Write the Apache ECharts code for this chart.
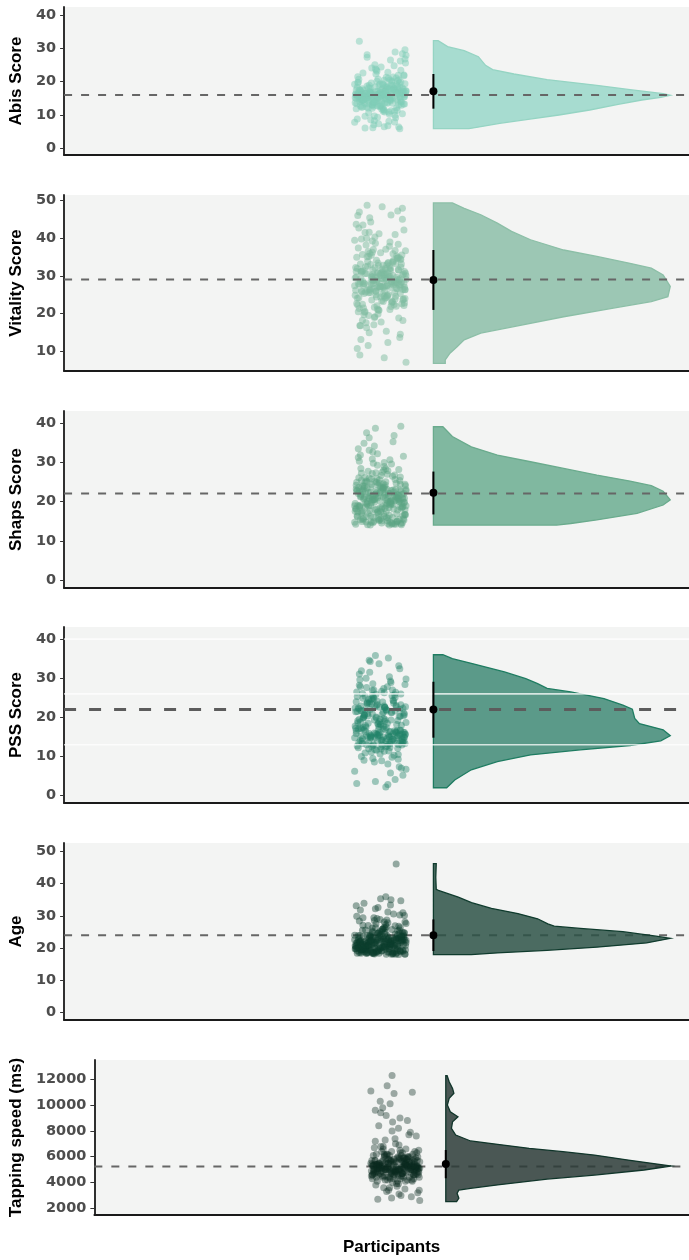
<!DOCTYPE html>
<html>
<head>
<meta charset="utf-8">
<script src="https://cdn.jsdelivr.net/npm/echarts@6/dist/echarts.min.js"></script>
<style>
  html, body { margin: 0; padding: 0; background: #fff; }
  #main { width: 689px; height: 1260px; }
</style>
</head>
<body>
<div id="main"></div>
<script>
// ---- data ----
var measures = ['Abis Score', 'Vitality Score', 'Shaps Score', 'PSS Score', 'Age', 'Tapping speed (ms)'];

var ticksAbis = [0, 10, 20, 30, 40];
var ticksVitality = [10, 20, 30, 40, 50];
var ticksShaps = [0, 10, 20, 30, 40];
var ticksPss = [0, 10, 20, 30, 40];
var ticksAge = [0, 10, 20, 30, 40, 50];
var ticksTapping = [2000, 4000, 6000, 8000, 10000, 12000];

// reference (dashed) line per panel
var refLines = [16, 29, 22, 22, 24, 5250];
// mean, lower, upper of the error bar
var meanAbis = [17.1, 11.9, 22.3];
var meanVitality = [28.9, 21.0, 36.8];
var meanShaps = [22.2, 16.7, 27.6];
var meanPss = [22.0, 14.8, 29.1];
var meanAge = [24.0, 19.1, 28.9];
var meanTapping = [5430, 4330, 6520];

// PSS band lines (white)
var pssBands = [13, 26, 40];

// horizontal jitter (0..1 within the cloud)
var jitter = [0.12,0.87,0.45,0.63,0.05,0.91,0.34,0.72,0.18,0.56,0.97,0.28,0.41,0.83,0.09,0.66,0.22,0.75,0.51,0.02,
  0.38,0.94,0.15,0.60,0.80,0.31,0.47,0.69,0.07,0.88,0.25,0.54,0.99,0.13,0.43,0.77,0.36,0.61,0.03,0.85,
  0.20,0.49,0.92,0.58,0.11,0.70,0.33,0.81,0.27,0.64,0.46,0.95,0.08,0.52,0.74,0.17,0.39,0.89,0.30,0.67,
  0.01,0.57,0.84,0.23,0.42,0.78,0.14,0.62,0.96,0.35,0.50,0.06,0.73,0.29,0.86,0.19,0.55,0.93,0.40,0.68,
  0.10,0.79,0.32,0.59,0.98,0.24,0.44,0.71,0.04,0.82,0.37,0.53,0.90,0.16,0.65,0.26,0.76,0.48,0.00,0.87,
  0.21,0.58,0.93,0.34,0.69,0.12,0.45,0.80,0.27,0.63,0.09,0.52,0.96,0.38,0.74,0.18,0.61,0.85,0.30,0.47,
  0.03,0.71,0.42,0.89,0.15,0.56,0.78,0.24,0.67,0.99,0.36,0.50,0.07,0.83,0.20,0.64,0.41,0.92,0.13,0.55,
  0.76,0.32,0.88,0.05,0.49,0.70,0.23,0.95,0.39,0.60,0.11,0.82,0.28,0.53,0.97,0.44,0.68,0.16,0.57,0.31,
  0.62,0.14,0.79,0.35,0.91,0.06,0.48,0.73,0.27,0.58,0.02,0.84,0.41,0.67,0.19,0.95,0.33,0.52,0.88,0.10,
  0.71,0.25,0.46,0.99,0.37,0.60,0.08,0.81,0.29,0.54,0.16,0.93,0.44,0.75,0.21,0.64,0.04,0.86,0.39,0.57,
  0.12,0.69,0.97,0.31,0.50,0.78,0.23,0.43,0.90,0.07,0.66,0.18,0.83,0.36,0.59,0.01,0.74,0.47,0.26,0.92,
  0.13,0.55,0.80,0.34,0.68,0.09,0.42,0.96,0.22,0.61,0.85,0.30,0.51,0.03,0.77,0.40,0.17,0.89,0.63,0.28,
  0.45,0.98,0.11,0.72,0.35,0.56,0.20,0.87,0.05,0.65,0.38,0.82,0.24,0.49,0.94,0.15,0.70,0.32,0.58,0.00];

var abisPoints = [16.2,15.4,17.1,13.8,18.3,16.7,12.9,20.2,15.1,11.6,19.4,16.0,22.3,14.2,17.6,10.8,15.7,18.1,24.4,16.4,
  9.7,13.3,17.9,14.8,21.1,8.6,16.1,14.5,19.8,26.2,15.3,12.2,17.3,16.8,23.1,7.9,13.7,18.6,15.0,20.6,
  16.5,12.7,28.4,14.9,17.2,11.3,15.9,19.1,14.1,6.8,16.3,22.0,15.6,13.1,18.8,17.4,25.1,13.9,16.6,10.2,
  15.2,20.4,17.7,12.4,16.0,28.9,14.4,18.2,15.5,6.2,16.9,21.5,13.5,17.0,19.6,15.8,11.1,16.2,23.8,14.6,
  17.5,9.2,15.1,18.4,16.7,27.3,12.8,20.0,16.1,14.7,7.1,17.8,14.0,22.6,15.9,12.1,18.0,15.3,19.2,5.9,
  16.4,13.6,17.2,13.2,26.5,15.0,20.8,16.8,10.6,18.5,32.1,14.3,16.0,8.3,17.6,15.6,21.3,13.0,16.5,19.0,
  11.9,15.2,17.1,23.4,14.5,16.2,9.9,18.7,15.4,27.9,12.6,17.4,16.6,20.3,6.1,15.8,14.2,18.1,12.3,16.9,
  24.8,17.0,15.1,8.8,19.3,16.3,13.4,21.8,13.8,17.3,15.7,11.4,18.9,16.1,29.6,14.8,20.5,15.5,6.5,16.7,
  15.8,14.3,17.4,13.1,16.6,19.7,12.5,15.0,18.2,10.9,16.1,21.9,14.7,17.8,13.6,15.5,24.1,11.8,16.9,14.0,
  18.9,15.3,7.4,17.1,13.9,16.4,20.7,12.2,15.7,19.4,14.5,16.8,9.3,17.6,15.2,22.8,13.4,16.2,18.4,11.5,
  15.9,14.2,26.8,16.6,13.0,17.3,15.1,20.1,12.9,16.0,8.1,14.9,18.6,15.6,17.0,13.7,21.4,16.3,14.4,10.4,
  15.4,19.1,16.7,12.0,17.9,15.0,23.5,13.3,16.5,14.8,6.4,18.0,15.8,17.5,11.2,16.1,14.6,19.9,13.5,16.9,
  15.3,25.6,12.7,17.2,14.1,16.4,9.6,18.3,15.6,21.0,13.8,16.2,28.1,14.9,17.7,12.4,15.5,19.6,16.0,7.8];

var vitalityPoints = [29.3,27.1,33.4,24.8,31.9,22.6,36.2,28.4,19.7,30.8,26.3,41.5,25.9,34.7,21.4,29.9,38.1,27.6,17.8,32.2,
  28.8,23.9,35.6,30.3,26.7,44.2,20.9,31.4,27.9,14.6,33.8,25.2,29.1,39.7,22.1,28.2,36.9,24.3,31.1,18.9,
  30.6,26.8,47.8,27.3,33.1,21.9,29.6,35.2,25.5,12.4,32.7,28.1,42.6,23.4,30.1,27.5,19.2,34.3,26.1,37.8,
  29.4,24.7,31.6,16.3,28.6,40.9,25.8,32.9,22.8,30.4,27.2,45.9,23.1,35.9,28.9,20.4,31.3,26.4,38.6,29.8,
  9.1,33.2,27.8,24.1,30.7,48.6,21.2,29.2,34.9,26.6,17.1,31.8,28.3,43.4,25.1,36.4,22.4,30.0,27.4,13.7,
  32.4,29.5,23.7,39.2,26.9,31.2,19.9,28.5,35.1,24.6,46.8,30.9,27.0,21.7,33.6,28.0,15.4,31.5,25.6,41.1,
  29.7,22.9,34.1,27.7,18.3,30.2,36.7,26.2,32.6,7.2,28.7,24.4,37.3,29.0,20.6,33.3,26.0,44.9,31.0,23.2,
  28.1,35.4,25.3,10.8,30.5,27.9,39.9,22.2,32.1,29.3,16.8,34.6,26.5,48.2,24.0,30.9,21.1,28.4,8.4,33.0,
  27.4,31.2,24.6,29.8,35.5,22.3,28.1,33.7,19.5,30.4,26.2,38.3,25.0,31.7,27.9,42.1,23.6,29.3,34.4,16.9,
  28.6,32.5,21.0,30.0,26.7,37.0,24.2,29.6,45.3,27.1,31.4,18.2,28.9,34.1,25.7,30.8,22.7,27.6,40.2,29.1,
  13.2,32.0,26.4,28.3,36.1,23.9,30.6,27.0,33.1,20.5,29.4,25.3,47.1,28.0,31.9,24.9,35.8,27.3,11.6,30.2,
  26.0,32.8,22.0,29.0,38.9,27.8,24.4,31.1,17.6,28.7,34.8,26.5,30.1,43.6,25.5,29.7,21.5,32.3,27.5,15.0,
  30.7,36.6,28.4,23.3,31.5,26.9,41.4,29.2,24.1,33.5,19.0,28.2,35.0,27.2,30.5,22.5,46.0,29.9,25.9,39.4];

var shapsPoints = [21.3,18.6,24.2,15.1,22.7,19.4,27.1,14.3,20.8,23.5,16.7,25.9,21.9,17.8,30.2,19.9,14.8,22.4,26.6,18.2,
  20.5,15.6,23.8,28.3,21.1,16.3,24.7,19.1,33.4,20.3,14.1,22.9,18.9,25.4,17.2,21.6,29.7,15.9,23.2,20.1,
  26.1,18.4,14.6,22.1,31.8,19.6,24.3,16.9,20.9,27.8,21.4,15.3,23.6,18.1,35.2,20.6,25.1,14.4,22.3,19.3,
  17.5,28.9,21.7,16.1,24.9,20.2,14.9,23.1,19.8,32.6,22.6,17.3,26.4,20.7,15.5,21.2,24.5,18.7,38.6,22.0,
  19.0,14.2,25.7,21.0,16.6,23.4,29.2,19.5,22.8,15.0,20.4,27.4,18.3,24.0,21.5,17.0,36.8,22.2,14.7,25.3,
  19.7,23.7,16.4,30.8,20.0,21.8,15.7,24.6,18.8,26.9,22.5,14.5,20.8,34.1,19.2,23.3,17.6,28.1,21.3,15.2,
  24.1,20.3,18.0,39.1,22.4,16.8,25.6,19.4,14.0,23.0,21.6,17.4,31.2,20.5,24.8,15.8,22.7,18.5,27.2,21.1,
  14.3,19.6,26.2,16.2,23.9,20.1,37.5,22.0,17.9,25.0,15.4,21.7,33.0,18.6,24.4,20.9,14.8,22.9,29.9,19.0,
  20.4,17.2,23.1,14.6,21.8,19.0,25.5,15.9,22.2,18.3,14.2,20.9,27.3,16.5,23.9,19.7,21.3,15.1,24.4,18.6,
  29.5,20.0,16.9,22.7,14.9,19.4,26.0,21.1,17.7,23.4,15.4,20.6,32.1,18.1,22.5,14.4,24.9,19.9,21.7,16.2,
  28.4,20.2,17.9,23.7,15.6,21.4,19.2,25.8,14.1,22.0,18.4,34.8,20.7,16.0,24.2,19.5,22.9,15.3,27.7,21.0,
  17.0,23.3,14.7,20.3,30.6,18.8,22.3,16.7,25.2,19.1,21.5,14.0,23.6,18.0,26.7,20.8,15.7,22.6,19.6,36.2,
  17.4,24.0,21.2,14.5,20.5,28.0,18.5,23.0,16.3,22.1,19.8,15.0,25.0,20.1,31.5,17.6,22.8,14.8,21.6,18.9];

var pssPoints = [15.2,22.1,18.4,12.7,25.3,14.6,20.9,9.8,16.8,27.4,13.3,23.6,15.9,19.2,31.1,11.4,17.5,24.2,14.1,21.4,
  8.6,16.2,26.1,13.8,22.8,15.4,18.9,29.3,12.2,20.3,14.9,23.9,6.7,17.1,15.6,25.8,13.1,21.9,16.5,33.2,
  10.9,19.6,14.3,22.5,27.9,15.1,12.6,18.2,24.6,2.8,16.9,21.1,13.6,26.7,15.8,20.0,11.8,23.2,14.7,30.4,
  17.8,22.9,9.3,15.3,19.9,25.1,13.9,21.6,16.1,28.6,12.4,18.6,14.4,24.0,7.4,20.6,15.0,22.3,35.8,13.2,
  17.3,26.4,11.1,19.4,15.7,23.5,14.0,21.2,3.1,16.6,27.0,12.9,18.0,24.9,15.5,20.4,10.3,22.6,14.8,32.4,
  16.4,19.0,13.5,25.6,5.8,21.7,15.2,23.0,12.0,18.5,28.2,14.2,20.7,16.0,24.4,9.0,22.0,13.0,34.3,17.6,
  15.9,21.3,11.6,26.0,14.5,19.7,4.1,23.8,16.3,29.8,12.8,18.3,22.4,15.3,25.4,8.1,20.1,13.7,31.9,17.0,
  14.1,24.7,16.7,21.5,10.6,19.3,27.6,15.0,22.7,2.2,18.8,13.4,34.6,20.8,15.6,23.3,12.3,17.4,26.3,14.9,
  14.6,21.7,16.3,24.5,12.9,19.1,15.4,27.0,13.5,22.6,17.2,10.5,25.9,15.0,20.5,14.0,23.4,8.9,16.7,29.6,
  13.9,21.0,15.8,18.7,24.8,12.5,22.2,16.0,31.5,14.3,19.8,5.2,15.5,23.7,17.9,13.2,26.5,20.2,14.8,11.3,
  22.9,16.4,28.4,15.2,18.1,21.6,13.0,24.2,7.0,17.0,15.1,20.8,12.1,25.2,16.9,22.4,14.4,33.7,18.5,15.7,
  10.0,21.3,16.2,26.9,13.6,19.5,23.1,14.9,30.0,17.4,15.3,22.0,11.9,24.0,16.6,3.6,20.0,13.8,27.8,15.9,
  18.3,22.7,14.1,25.5,9.5,17.7,21.9,15.6,12.7,35.2,19.3,14.7,23.6,16.1,20.4,13.3,28.9,15.0,22.5,6.2];

var agePoints = [22.3,19.1,24.6,20.8,18.4,23.7,26.2,21.4,19.8,22.9,28.1,20.3,18.9,25.4,21.9,23.2,19.4,30.6,22.1,20.6,
  18.2,24.1,21.2,27.3,22.7,19.6,20.1,33.4,23.9,21.7,18.6,25.9,22.4,19.3,29.2,20.9,23.4,18.1,21.5,26.8,
  22.0,19.9,24.9,20.4,31.8,22.6,18.7,23.1,21.0,27.9,19.2,22.8,20.2,25.2,18.5,23.6,21.3,34.7,22.2,19.7,
  20.7,26.4,23.0,18.3,21.8,24.3,19.5,28.7,22.5,20.0,35.3,21.6,18.8,23.3,25.6,20.5,22.1,19.0,32.2,21.1,
  23.8,18.1,22.4,26.1,20.8,19.4,24.5,21.4,29.9,22.9,18.6,20.3,23.5,27.1,19.8,21.9,18.9,24.0,22.6,30.3,
  20.1,22.2,19.3,25.0,21.2,18.4,23.1,46.1,20.6,22.7,28.4,19.1,24.8,21.6,18.2,22.0,26.6,20.9,23.7,19.6,
  33.1,21.0,18.7,22.3,25.5,20.4,19.9,23.9,21.7,27.6,18.3,22.8,20.2,24.2,19.5,31.2,21.3,22.5,18.8,26.0,
  20.7,23.4,19.2,21.8,28.9,22.1,18.5,24.7,20.0,35.9,21.5,19.7,23.0,25.8,18.1,22.4,20.5,29.4,21.1,19.0,
  21.5,19.4,23.2,18.6,22.7,20.2,25.1,18.3,21.9,24.4,19.8,22.3,27.5,20.6,18.9,23.6,21.1,19.2,26.3,22.0,
  18.1,20.9,24.7,21.7,29.4,19.6,22.8,18.5,23.9,20.4,21.3,31.0,19.0,22.5,25.6,18.7,20.8,23.3,21.8,28.1,
  19.5,22.1,18.2,24.2,20.1,26.9,21.4,19.3,23.7,22.6,18.8,33.9,20.5,22.9,24.9,19.7,21.2,18.4,27.0,22.2,
  20.7,23.5,19.1,25.3,21.6,18.6,22.4,30.1,20.3,23.1,18.0,21.9,24.1,19.9,22.7,26.4,20.0,18.9,23.8,21.0,
  32.6,19.4,22.0,25.8,18.3,21.5,20.6,24.6,19.2,22.8,28.6,20.9,18.7,23.4,21.1,19.8,35.0,22.3,20.2,24.0];

var tappingPoints = [5300,4900,5600,4500,6100,5100,4200,5800,5400,3900,6500,5000,4700,5500,7200,4400,5200,6000,4800,5700,
  3600,5300,4600,6300,5100,9200,4300,5900,5000,5400,6800,4100,5600,4900,12300,5200,3400,5800,4600,6200,
  5300,4800,7600,5100,4400,5500,11500,5000,6000,4700,5400,3200,5700,4900,8800,5200,4300,6400,5000,5600,
  4500,5900,11000,5100,4800,5300,2700,6100,4600,5500,7000,4900,5800,4200,5200,10300,5000,6300,4700,5400,
  3800,5600,5100,9000,4400,5700,4900,6600,5300,2900,5000,5900,4600,8400,5200,4800,6000,5500,11100,4300,
  5100,5800,4700,6200,3500,5400,5000,7900,4500,5600,9600,5200,4900,6100,4200,5300,3000,5700,5000,10900,
  4600,5500,6400,4800,5100,8200,5400,4400,5900,2600,5200,4900,6700,5000,9400,4700,5600,5300,4100,6000,
  5100,3300,5800,4800,7400,5400,4500,5200,10100,5000,6200,4700,5500,3700,5100,8700,4900,5300,6900,5600,
  5200,4800,5500,4400,5900,5000,4600,5300,6200,4900,5400,4100,5700,5100,4700,6000,5200,3900,5600,4800,
  5300,6600,4500,5100,5800,4300,5400,5000,7300,4700,5500,5200,4000,5900,4900,6300,5300,4600,5700,3100,
  5100,5400,4800,6100,5000,4400,5600,8000,5200,4700,5900,5100,4200,5500,6500,4900,5300,5800,3600,5000,
  5400,4600,6000,5200,4800,5700,2800,5100,6400,4500,5300,5000,5600,4300,7700,4900,5500,5200,4700,6100,
  5100,3400,5400,4800,5800,5000,6800,4600,5300,5600,4400,5200,9800,4900,5700,5100,4100,6200,5000,5500];

// half-violin outlines: [value, relative width], top to bottom
var abisViolin = [[32.3,0.02],[30.5,0.06],[29.3,0.13],[27.5,0.19],[24.9,0.22],[23.6,0.25],[22.3,0.34],[20.6,0.48],
  [18.9,0.69],[17.6,0.83],[16.4,0.97],[15.9,1.0],[15.3,0.96],[14.5,0.88],[13.2,0.78],[11.5,0.66],[10.0,0.53],
  [8.7,0.40],[7.5,0.28],[6.5,0.2],[5.9,0.15]];
var vitalityViolin = [[49.2,0.08],[47.8,0.13],[46.1,0.2],[43.9,0.27],[41.7,0.33],[39.5,0.41],[36.8,0.55],[35.1,0.69],
  [33.3,0.83],[32.0,0.92],[30.2,0.97],[27.2,1.0],[24.5,0.99],[23.2,0.92],[21.5,0.76],[19.2,0.55],[16.6,0.34],
  [14.9,0.2],[13.1,0.13],[11.3,0.1],[9.6,0.07],[7.8,0.05],[6.9,0.05]];
var shapsViolin = [[39.0,0.04],[36.5,0.08],[33.9,0.16],[31.8,0.27],[30.1,0.41],[28.4,0.55],[26.7,0.69],[25.2,0.83],
  [24.0,0.92],[22.6,0.97],[20.4,1.0],[19.1,0.97],[17.0,0.86],[15.3,0.69],[14.4,0.58],[14.0,0.52]];
var pssViolin = [[36.0,0.04],[35.0,0.08],[33.8,0.16],[31.6,0.30],[29.9,0.39],[28.6,0.44],[27.4,0.48],[26.5,0.58],
  [24.8,0.72],[23.1,0.80],[22.1,0.84],[19.7,0.85],[18.4,0.87],[16.8,0.97],[15.3,1.0],[14.0,0.96],[12.8,0.83],
  [11.7,0.62],[10.4,0.41],[8.7,0.27],[6.6,0.16],[4.0,0.09],[2.0,0.056]];
var ageViolin = [[46.2,0.012],[42.0,0.01],[38.2,0.012],[37.9,0.021],[37.2,0.049],[35.8,0.105],[34.1,0.161],[32.3,0.245],
  [30.7,0.357],[29.1,0.44],[27.5,0.483],[26.8,0.51],[26.1,0.62],[25.1,0.80],[23.7,0.94],[23.0,1.0],[21.6,0.9],
  [20.3,0.69],[19.3,0.48],[18.5,0.27],[18.0,0.16]];
var tappingViolin = [[12280,0.006],[11810,0.015],[11300,0.03],[10920,0.036],[10530,0.015],[10010,0.007],[9490,0.02],
  [9100,0.054],[8710,0.03],[8200,0.025],[7680,0.044],[7220,0.11],[6960,0.23],[6650,0.37],[6390,0.52],[6130,0.66],
  [5740,0.81],[5280,1.0],[4970,0.88],[4580,0.66],[4270,0.45],[3810,0.23],[3550,0.11],[3420,0.058],[3160,0.05],
  [2780,0.058],[2510,0.048]];

// ---- layout / style ----
var CLOUD_L = 0.465, CLOUD_W = 0.083, BASE = 0.591, VIOLIN_W = 0.379;

var panels = [
  {top: 7,    height: 148, left: 61, min: -2,   max: 42.4,  ticks: ticksAbis,     pts: abisPoints,     vio: abisViolin,     mean: meanAbis,
   dot: '#7fcdb8', dotOp: 0.5, fill: '#a7dcd0', stroke: '#95d4c3', nameGap: 31},
  {top: 195,  height: 176, left: 61, min: 4.9,  max: 51.3,  ticks: ticksVitality, pts: vitalityPoints, vio: vitalityViolin, mean: meanVitality,
   dot: '#7dbb9f', dotOp: 0.5, fill: '#9cc7b4', stroke: '#8cbfa7', nameGap: 31},
  {top: 411,  height: 177, left: 61, min: -2,   max: 43,    ticks: ticksShaps,    pts: shapsPoints,    vio: shapsViolin,    mean: meanShaps,
   dot: '#5aa583', dotOp: 0.45, fill: '#80b8a0', stroke: '#6aab8d', nameGap: 31},
  {top: 627,  height: 176, left: 61, min: -1.9, max: 43.1,  ticks: ticksPss,      pts: pssPoints,      vio: pssViolin,      mean: meanPss,
   dot: '#22836a', dotOp: 0.42, fill: '#5b9a89', stroke: '#1e7c61', nameGap: 31},
  {top: 843,  height: 177, left: 61, min: -2.3, max: 52.6,  ticks: ticksAge,      pts: agePoints,      vio: ageViolin,      mean: meanAge,
   dot: '#0b3d2e', dotOp: 0.42, fill: 'rgba(45,82,71,0.85)', stroke: '#0f3b2d', nameGap: 31},
  {top: 1060, height: 155, left: 91, min: 1480, max: 13500, ticks: ticksTapping,  pts: tappingPoints,  vio: tappingViolin,  mean: meanTapping,
   dot: '#0a2a20', dotOp: 0.38, fill: 'rgba(44,59,55,0.85)', stroke: '#10352a', nameGap: 61}
];

var grids = [], xAxes = [], yAxes = [], series = [];

panels.forEach(function (p, i) {
  grids.push({left: p.left, right: 0, top: p.top, height: p.height, show: true,
    backgroundColor: '#f3f4f3', borderWidth: 0, containLabel: false});

  xAxes.push({
    gridIndex: i, type: 'value', min: 0, max: 1,
    axisLine: {show: true, onZero: false, lineStyle: {color: '#1a1a1a', width: 1.8}},
    axisTick: {show: false}, axisLabel: {show: false}, splitLine: {show: false},
    name: i === 5 ? 'Participants' : '', nameLocation: 'middle', nameGap: 24,
    nameTextStyle: {color: '#000', fontFamily: 'Liberation Sans', fontWeight: 'bold', fontSize: 17}
  });

  yAxes.push({
    gridIndex: i, type: 'value', min: p.min, max: p.max,
    axisLine: {show: true, onZero: false, lineStyle: {color: '#1a1a1a', width: 1.8}},
    axisTick: {show: true, length: 4, customValues: p.ticks, lineStyle: {color: '#333', width: 1}},
    axisLabel: {customValues: p.ticks, color: '#4d4d4d', fontFamily: 'DejaVu Sans', fontWeight: 'bold',
      fontSize: 14.5, margin: 8, formatter: function (v) { return String(v); }},
    splitLine: {show: false},
    name: measures[i], nameLocation: 'middle', nameGap: p.nameGap,
    nameTextStyle: {color: '#000', fontFamily: 'Liberation Sans', fontWeight: 'bold', fontSize: 17}
  });

  // jittered raw points
  series.push({
    type: 'scatter', xAxisIndex: i, yAxisIndex: i, z: 2, silent: true,
    symbolSize: 7,
    itemStyle: {color: p.dot, opacity: p.dotOp},
    data: p.pts.map(function (v, k) { return [CLOUD_L + jitter[k % jitter.length] * CLOUD_W, v]; })
  });

  // half violin
  var prof = p.vio;
  series.push({
    type: 'custom', xAxisIndex: i, yAxisIndex: i, z: 3, silent: true,
    data: [[BASE, p.mean[0]]],
    renderItem: function (params, api) {
      var pts = [api.coord([BASE, prof[0][0]])];
      prof.forEach(function (d) { pts.push(api.coord([BASE + d[1] * VIOLIN_W, d[0]])); });
      pts.push(api.coord([BASE, prof[prof.length - 1][0]]));
      return {type: 'polygon', shape: {points: pts},
        style: {fill: p.fill, stroke: p.stroke, lineWidth: 1.3}};
    }
  });

  // dashed reference line
  var thick = i === 3;
  series.push({
    type: 'line', xAxisIndex: i, yAxisIndex: i, z: i >= 4 ? 2 : 4, silent: true,
    symbol: 'none',
    lineStyle: {color: thick ? '#5c5c5c' : '#666', width: thick ? 3 : 2, type: thick ? [12, 13] : [8, 9]},
    data: [[0, refLines[i]], [1, refLines[i]]]
  });

  if (i === 3) {
    pssBands.forEach(function (b) {
      series.push({
        type: 'line', xAxisIndex: i, yAxisIndex: i, z: 4, silent: true, symbol: 'none',
        lineStyle: {color: '#ffffff', width: 1.6, opacity: 0.75},
        data: [[0, b], [1, b]]
      });
    });
  }

  // error bar + mean
  series.push({
    type: 'line', xAxisIndex: i, yAxisIndex: i, z: 5, silent: true, symbol: 'none',
    lineStyle: {color: '#000', width: 2},
    data: [[BASE, p.mean[1]], [BASE, p.mean[2]]]
  });
  series.push({
    type: 'scatter', xAxisIndex: i, yAxisIndex: i, z: 6, silent: true,
    symbolSize: 8, itemStyle: {color: '#000', opacity: 1},
    data: [[BASE, p.mean[0]]]
  });
});

var myChart = echarts.init(document.getElementById('main'));
myChart.setOption({
  animation: false,
  backgroundColor: '#ffffff',
  textStyle: {fontFamily: 'Liberation Sans'},
  grid: grids,
  xAxis: xAxes,
  yAxis: yAxes,
  series: series
});
</script>
</body>
</html>
